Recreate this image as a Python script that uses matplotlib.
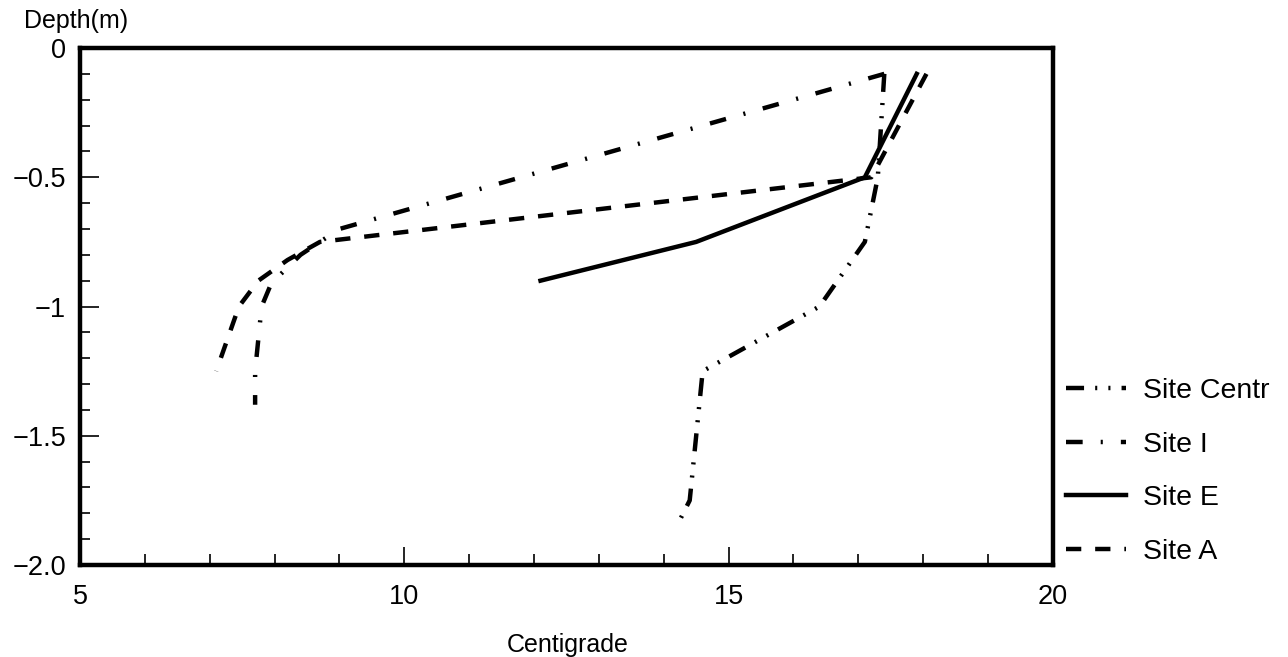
import numpy as np
import matplotlib
matplotlib.use('Agg')
import matplotlib.pyplot as plt
from matplotlib.ticker import MultipleLocator, FixedLocator, FixedFormatter

plt.rcParams['font.family'] = ['Liberation Sans', 'DejaVu Sans']
plt.rcParams['lines.scale_dashes'] = False

# temperature (Centigrade) vs depth (m)
centr_t = [17.4, 17.3, 17.1, 16.4, 14.6, 14.5, 14.4, 14.2]
centr_d = [-0.1, -0.5, -0.75, -1.0, -1.25, -1.5, -1.75, -1.85]

site_i_t = [17.4, 9.0, 8.4, 7.95, 7.8, 7.7, 7.7]
site_i_d = [-0.1, -0.7, -0.8, -0.91, -1.0, -1.25, -1.38]

site_e_t = [17.9, 17.1, 14.5, 12.1]
site_e_d = [-0.1, -0.5, -0.75, -0.9]

site_a_t = [18.05, 17.2, 8.7, 8.2, 7.75, 7.45, 7.1]
site_a_d = [-0.1, -0.5, -0.75, -0.82, -0.9, -1.0, -1.25]

ytick_vals = [0, -0.5, -1, -1.5, -2.0]
ytick_txt = ['0', '\u22120.5', '\u22121', '\u22121.5', '\u22122.0']
xtick_vals = [5, 10, 15, 20]

fs_tick = 19.5
fs_leg = 20.5
fs_lab = 18
lw = 3.2

fig = plt.figure(figsize=(12.88, 6.57), dpi=100)
ax = fig.add_axes([0.0621, 0.14, 0.7554, 0.7869])

ax.plot(centr_t, centr_d, color='k', lw=lw,
        linestyle=(0, (13, 8, 1.5, 8, 1.5, 8)), label='Site Centr')
ax.plot(site_i_t, site_i_d, color='k', lw=lw,
        linestyle=(0, (12, 13, 1.5, 13)), label='Site I')
ax.plot(site_e_t, site_e_d, color='k', lw=lw, linestyle='-', label='Site E')
ax.plot(site_a_t, site_a_d, color='k', lw=lw,
        linestyle=(0, (11, 10)), label='Site A')

ax.set_xlim(5, 20)
ax.set_ylim(-2.0, 0)

for s in ax.spines.values():
    s.set_linewidth(3.2)

ax.xaxis.set_major_locator(FixedLocator(xtick_vals))
ax.xaxis.set_minor_locator(MultipleLocator(1))
ax.yaxis.set_major_locator(FixedLocator(ytick_vals))
ax.yaxis.set_major_formatter(FixedFormatter(ytick_txt))
ax.yaxis.set_minor_locator(MultipleLocator(0.1))

ax.tick_params(axis='both', which='both', direction='in', colors='k',
               labelsize=fs_tick, top=False, right=False)
ax.tick_params(axis='x', which='major', length=13, width=1.2, pad=14)
ax.tick_params(axis='x', which='minor', length=8, width=1.2)
ax.tick_params(axis='y', which='major', length=14, width=1.2, pad=10)
ax.tick_params(axis='y', which='minor', length=7, width=1.2)

leg = ax.legend(loc='center left', bbox_to_anchor=(1.002, 0.181), frameon=False,
                fontsize=fs_leg, handlelength=2.1, handletextpad=0.6,
                labelspacing=0.97, borderaxespad=0.0, borderpad=0.4)

fig.text(0.019, 0.968, 'Depth(m)', fontsize=fs_lab, ha='left', va='center')
fig.text(0.441, 0.018, 'Centigrade', fontsize=fs_lab, ha='center', va='center')

fig.savefig('out.png', dpi=100)
